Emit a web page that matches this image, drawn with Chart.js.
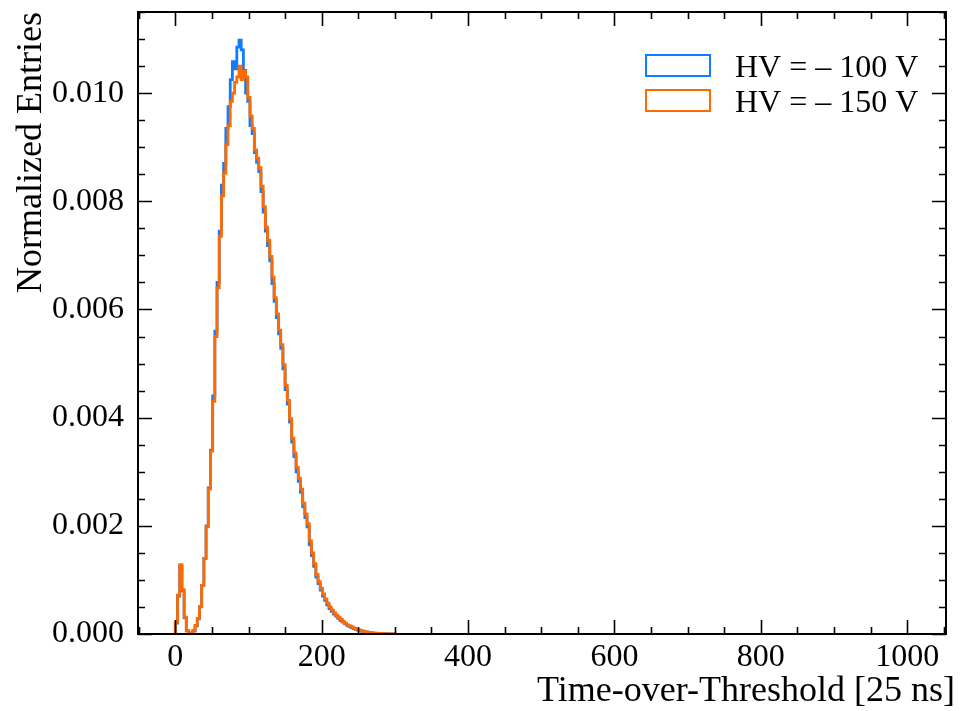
<!DOCTYPE html>
<html>
<head>
<meta charset="utf-8">
<script src="https://cdn.jsdelivr.net/npm/chart.js@4.4.0/dist/chart.umd.min.js"></script>
<style>
  html, body { margin: 0; padding: 0; background: #fff; }
</style>
</head>
<body>
<canvas id="tot-chart" width="960" height="711"></canvas>
<script>
// Histogram bins: left edges of 3-unit wide bins (Time-over-Threshold, 25 ns units)
const binEdges = [
  0, 3, 6, 9, 12, 15, 18, 21, 24, 27, 30, 33, 36, 39, 42, 45, 48, 51, 54, 57,
  60, 63, 66, 69, 72, 75, 78, 81, 84, 87, 90, 93, 96, 99, 102, 105, 108, 111, 114, 117,
  120, 123, 126, 129, 132, 135, 138, 141, 144, 147, 150, 153, 156, 159, 162, 165, 168, 171, 174, 177,
  180, 183, 186, 189, 192, 195, 198, 201, 204, 207, 210, 213, 216, 219, 222, 225, 228, 231, 234, 237,
  240, 243, 246, 249, 252, 255, 258, 261, 264, 267, 270, 273, 276, 279, 282, 285, 288, 291, 294, 297,
  300
];

// Normalized entries, HV = -100 V
const hv100Values = [
  0.00020, 0.00070, 0.00125, 0.00080, 0.00030, 0.00006, 0.00002, 0.00002, 0.00006, 0.00015,
  0.00028, 0.00050, 0.00090, 0.00140, 0.00200, 0.00270, 0.00340, 0.00440, 0.00560, 0.00650,
  0.00745, 0.00830, 0.00870, 0.00935, 0.00975, 0.01025, 0.01058, 0.01045, 0.01085, 0.01098,
  0.01080, 0.01042, 0.01000, 0.00985, 0.00940, 0.00925, 0.00890, 0.00872, 0.00855, 0.00818,
  0.00780, 0.00745, 0.00718, 0.00690, 0.00648, 0.00615, 0.00585, 0.00555, 0.00528, 0.00490,
  0.00452, 0.00425, 0.00392, 0.00355, 0.00328, 0.00300, 0.00282, 0.00262, 0.00235, 0.00215,
  0.00198, 0.00165, 0.00145, 0.00125, 0.00105, 0.00093, 0.00081, 0.00070, 0.00062, 0.00054,
  0.00047, 0.00042, 0.00037, 0.00033, 0.00029, 0.00025, 0.00022, 0.00019, 0.00016, 0.00014,
  0.00012, 0.00010, 0.000085, 0.00007, 0.00006, 0.00005, 0.00004, 0.000032, 0.000026, 0.00002,
  0.000016, 0.000012, 0.00001, 0.000008, 0.000006, 0.000005, 0.000004, 0.000003, 0.000002, 0.000002
];

// Normalized entries, HV = -150 V
const hv150Values = [
  0.00022, 0.00072, 0.00128, 0.00082, 0.00031, 0.00006, 0.00002, 0.00002, 0.00006, 0.00016,
  0.00029, 0.00051, 0.00090, 0.00140, 0.00198, 0.00268, 0.00338, 0.00430, 0.00550, 0.00640,
  0.00735, 0.00810, 0.00852, 0.00905, 0.00940, 0.00985, 0.01000, 0.01020, 0.01030, 0.01050,
  0.01025, 0.01040, 0.01030, 0.00992, 0.00958, 0.00935, 0.00895, 0.00880, 0.00862, 0.00828,
  0.00790, 0.00752, 0.00728, 0.00698, 0.00660, 0.00622, 0.00592, 0.00562, 0.00535, 0.00498,
  0.00460, 0.00432, 0.00398, 0.00362, 0.00335, 0.00308, 0.00288, 0.00268, 0.00242, 0.00222,
  0.00204, 0.00172, 0.00150, 0.00130, 0.00110, 0.00097, 0.00085, 0.00074, 0.00065, 0.00057,
  0.00050, 0.00044, 0.00039, 0.00035, 0.00031, 0.00027, 0.00023, 0.00020, 0.00017, 0.00015,
  0.00013, 0.00011, 0.00009, 0.000075, 0.000065, 0.000055, 0.000045, 0.000036, 0.000028, 0.000022,
  0.000018, 0.000014, 0.000011, 0.000009, 0.000007, 0.000006, 0.000005, 0.000004, 0.000003, 0.000002
];

const seriesLabels = ['HV = \u2013 100 V', 'HV = \u2013 150 V'];
const seriesColors = ['#0f7dff', '#ff6a00'];

// Axis ticks and titles
const xMajorTicks = [0, 200, 400, 600, 800, 1000];
const xMinorStep = 50;
const yMajorTicks = [0, 0.002, 0.004, 0.006, 0.008, 0.010];
const yMinorStep = 0.0005;
const xTitle = 'Time-over-Threshold [25 ns]';
const yTitle = 'Normalized Entries';

const FONT = "'Liberation Serif', 'Times New Roman', serif";

// step histogram points: start at (0,0), one point per left edge, close at last edge
function histPoints(values) {
  const pts = [{ x: binEdges[0], y: 0 }];
  values.forEach((v, i) => pts.push({ x: binEdges[i], y: v }));
  pts.push({ x: binEdges[binEdges.length - 1], y: 0 });
  return pts;
}

// frame + inward ticks on all four sides (matplotlib style)
const frameTicks = {
  id: 'frameTicks',
  afterDatasetsDraw(chart) {
    const { ctx, chartArea: a, scales: { x, y } } = chart;
    ctx.save();
    ctx.strokeStyle = '#000';
    ctx.lineWidth = 1.6;
    ctx.beginPath();
    for (let v = Math.ceil(x.min / xMinorStep) * xMinorStep; v <= x.max; v += xMinorStep) {
      const px = Math.round(x.getPixelForValue(v)) + 0.5;
      const len = xMajorTicks.includes(v) ? 14 : 7;
      ctx.moveTo(px, a.bottom); ctx.lineTo(px, a.bottom - len);
      ctx.moveTo(px, a.top); ctx.lineTo(px, a.top + len);
    }
    for (let k = 0; k * yMinorStep <= y.max + 1e-12; k++) {
      const v = k * yMinorStep;
      const py = Math.round(y.getPixelForValue(v)) + 0.5;
      const len = (k % 4 === 0) ? 14 : 7;
      ctx.moveTo(a.left, py); ctx.lineTo(a.left + len, py);
      ctx.moveTo(a.right, py); ctx.lineTo(a.right - len, py);
    }
    ctx.stroke();
    ctx.lineWidth = 2;
    ctx.strokeRect(a.left, a.top, a.right - a.left, a.bottom - a.top);
    ctx.restore();
  }
};

// axis titles anchored at the ends of the axes, legend with outlined boxes
const titlesAndLegend = {
  id: 'titlesAndLegend',
  afterDraw(chart) {
    const { ctx, chartArea: a } = chart;
    ctx.save();
    ctx.fillStyle = '#000';
    ctx.font = '36px ' + FONT;
    ctx.textBaseline = 'alphabetic';
    ctx.textAlign = 'right';
    ctx.fillText(xTitle, a.right + 9, 701);
    ctx.save();
    ctx.translate(41, a.top);
    ctx.rotate(-Math.PI / 2);
    ctx.fillText(yTitle, 0, 0);
    ctx.restore();

    ctx.font = '32px ' + FONT;
    ctx.textAlign = 'left';
    chart.data.datasets.forEach((ds, i) => {
      const top = 55 + i * 35;
      ctx.lineWidth = 2;
      ctx.strokeStyle = ds.borderColor;
      ctx.strokeRect(a.right - 300, top, 64, 21);
      ctx.fillText(ds.label, a.right - 211, top + 22);
    });
    ctx.restore();
  }
};

const ctx = document.getElementById('tot-chart').getContext('2d');
new Chart(ctx, {
  type: 'line',
  data: {
    datasets: [
      {
        label: seriesLabels[0],
        data: histPoints(hv100Values),
        borderColor: seriesColors[0],
        borderWidth: 2.8,
        stepped: 'before',
        pointRadius: 0,
        fill: false,
        order: 1
      },
      {
        label: seriesLabels[1],
        data: histPoints(hv150Values),
        borderColor: seriesColors[1],
        borderWidth: 2.8,
        stepped: 'before',
        pointRadius: 0,
        fill: false,
        order: 0
      }
    ]
  },
  options: {
    responsive: false,
    animation: false,
    devicePixelRatio: 1,
    layout: { padding: { top: 12, right: 14, left: 0, bottom: 0 } },
    plugins: {
      legend: { display: false },
      tooltip: { enabled: false }
    },
    scales: {
      x: {
        type: 'linear',
        min: -51,
        max: 1053,
        afterFit: s => { s.height = 77; s.paddingLeft = 0; s.paddingRight = 0; },
        afterBuildTicks: s => { s.ticks = xMajorTicks.map(v => ({ value: v })); },
        grid: { display: false, drawTicks: false },
        border: { display: false },
        ticks: {
          color: '#000',
          font: { family: FONT, size: 32 },
          padding: 4,
          maxRotation: 0,
          callback: v => String(v)
        }
      },
      y: {
        type: 'linear',
        min: 0,
        max: 0.0115,
        afterFit: s => { s.width = 138; s.paddingTop = 0; s.paddingBottom = 0; },
        afterBuildTicks: s => { s.ticks = yMajorTicks.map(v => ({ value: v })); },
        grid: { display: false, drawTicks: false },
        border: { display: false },
        ticks: {
          color: '#000',
          font: { family: FONT, size: 32 },
          padding: 14,
          callback: v => v.toFixed(3)
        }
      }
    }
  },
  plugins: [frameTicks, titlesAndLegend]
});
</script>
</body>
</html>
